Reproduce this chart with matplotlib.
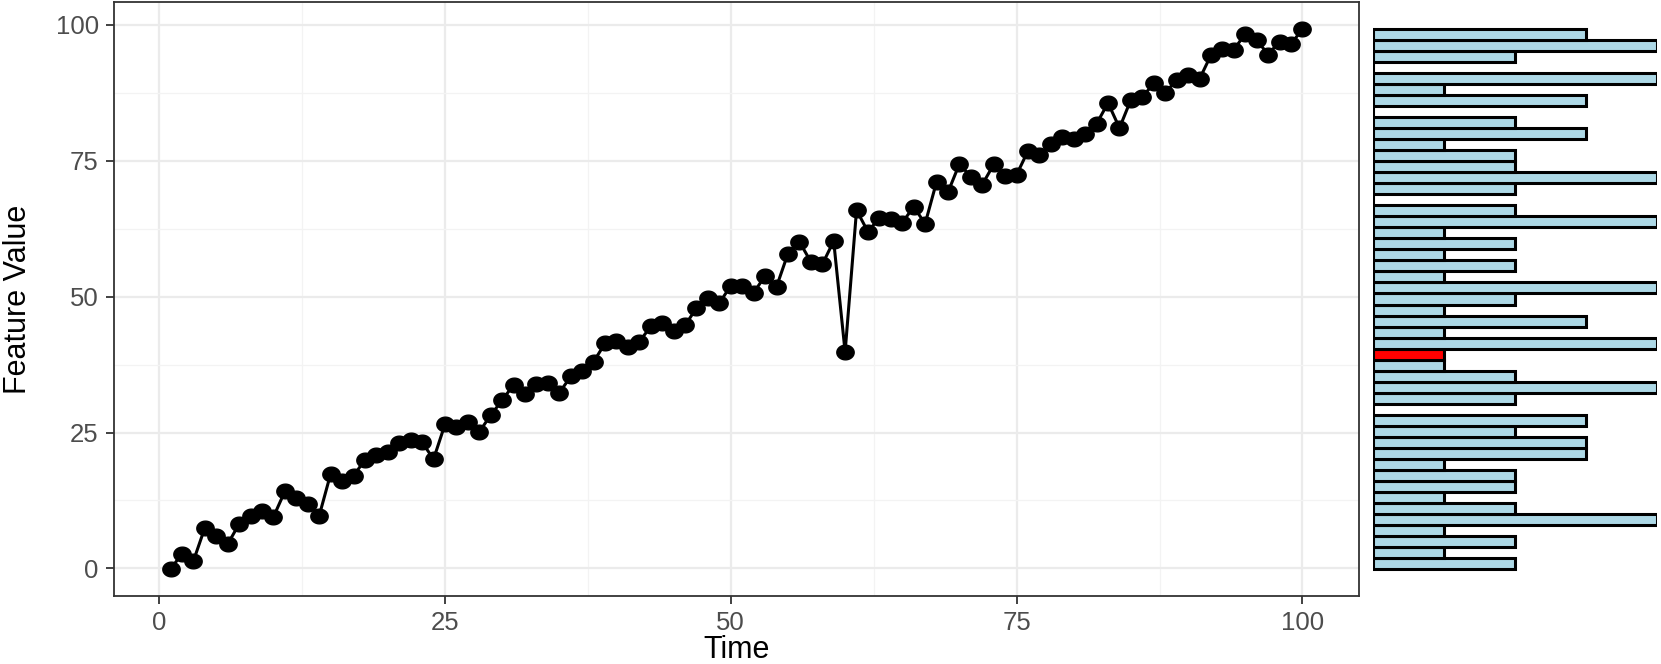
import numpy as np
import matplotlib
matplotlib.use("Agg")
import matplotlib.pyplot as plt
from matplotlib.path import Path

plt.rcParams['font.family'] = ['Liberation Sans', 'DejaVu Sans']

# series (time 1..100)
time = list(range(1, 101))
feature_value = [
    -0.1, 2.7, 1.4, 7.5, 5.9, 4.5, 8.2, 9.7, 10.5, 9.5,
    14.2, 12.9, 11.9, 9.7, 17.4, 16.1, 17.0, 20.0, 20.9, 21.4,
    23.0, 23.7, 23.2, 20.1, 26.5, 26.0, 27.0, 25.1, 28.2, 30.9,
    33.8, 32.0, 33.9, 34.1, 32.3, 35.3, 36.4, 38.0, 41.4, 41.8,
    40.7, 41.7, 44.5, 45.2, 43.7, 44.7, 47.9, 49.7, 48.8, 52.0,
    52.0, 50.7, 53.8, 51.8, 57.9, 60.1, 56.4, 55.9, 60.2, 39.8,
    65.9, 61.9, 64.5, 64.2, 63.6, 66.5, 63.4, 71.1, 69.2, 74.4,
    72.0, 70.6, 74.3, 72.2, 72.4, 76.8, 76.0, 78.0, 79.3, 79.0,
    79.9, 81.8, 85.6, 81.0, 86.2, 86.7, 89.2, 87.4, 89.9, 90.7,
    90.0, 94.4, 95.5, 95.4, 98.3, 97.2, 94.5, 96.9, 96.4, 99.2,
]
anomaly_time = 60

# histogram counts, bottom bin to top bin (49 bins over the data range)
hist_counts = [2, 1, 2, 1, 4, 2, 1, 2, 2, 1, 3, 3, 2, 3, 0, 2, 4, 2, 1, 1,
               4, 1, 3, 1, 2, 4, 1, 2, 1, 2, 1, 4, 2, 0, 2, 4, 2, 2, 1, 3,
               2, 0, 3, 1, 4, 0, 2, 4, 3]

W, H = 1661, 664
fig = plt.figure(figsize=(W / 100, H / 100), dpi=100)

# left panel: time series
ax = fig.add_axes([114 / W, 1 - 596 / H, (1359 - 114) / W, (596 - 2) / H])
ax.set_facecolor('white')

# slightly wide ellipse marker like the reference
th = np.linspace(0, 2 * np.pi, 40)
ell = Path(np.column_stack([1.18 * np.cos(th), np.sin(th)]), closed=True)

ax.plot(time, feature_value, color='black', lw=2.2, zorder=3)
ax.plot(time, feature_value, ls='none', marker=ell, ms=12.5,
        color='black', zorder=4)

vmin, vmax = min(feature_value), max(feature_value)
pad = 0.05 * (vmax - vmin)
ylim = (vmin - pad, vmax + pad)
ax.set_xlim(1 - 0.05 * 99, 100 + 0.05 * 99)
ax.set_ylim(*ylim)

ax.set_xticks([0, 25, 50, 75, 100])
ax.set_yticks([0, 25, 50, 75, 100])
ax.set_xticks([12.5, 37.5, 62.5, 87.5], minor=True)
ax.set_yticks([12.5, 37.5, 62.5, 87.5], minor=True)
ax.grid(True, which='major', color='#EBEBEB', lw=1.6, zorder=0)
ax.grid(True, which='minor', color='#F3F3F3', lw=0.9, zorder=0)
ax.set_axisbelow(True)
ax.tick_params(which='major', length=6, width=1.3, color='#333333',
               labelsize=18.5, labelcolor='#4D4D4D', pad=5)
ax.tick_params(which='minor', length=0)
for s in ax.spines.values():
    s.set_color('#333333')
    s.set_linewidth(1.3)
ax.set_xlabel('Time', fontsize=22, labelpad=0)
ax.set_ylabel('Feature Value', fontsize=22, labelpad=16)

# right panel: histogram of the values, shared vertical scale
hx = fig.add_axes([1373 / W, 1 - 596 / H, (1657 - 1373) / W, (596 - 2) / H])
edges = np.linspace(vmin, vmax, len(hist_counts) + 1)
centers = (edges[:-1] + edges[1:]) / 2
bw = edges[1] - edges[0]
anom = feature_value[time.index(anomaly_time)]
colors = ['red' if lo <= anom < hi else '#ADD8E6'
          for lo, hi in zip(edges[:-1], edges[1:])]
hx.barh(centers, hist_counts, height=bw, color=colors,
        edgecolor='black', linewidth=2.2)
hx.set_ylim(*ylim)
hx.set_xlim(0, max(hist_counts))
hx.axis('off')

fig.savefig('out.png', dpi=100)
